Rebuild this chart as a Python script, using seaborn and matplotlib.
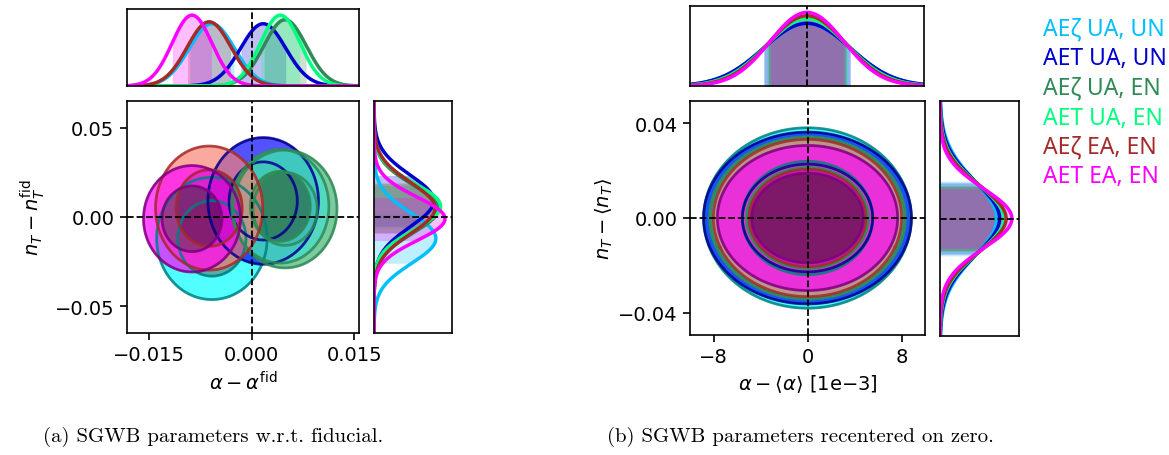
import numpy as np
import matplotlib
matplotlib.use('Agg')
import matplotlib.pyplot as plt
import seaborn as sns

# series labels and colours
labels = ['AEζ UA, UN', 'AET UA, UN', 'AEζ UA, EN', 'AET UA, EN', 'AEζ EA, EN', 'AET EA, EN']
line_colors = ['deepskyblue', 'mediumblue', 'seagreen', 'springgreen', 'brown', 'magenta']
fill_colors = ['cyan', 'blue', 'mediumseagreen', 'turquoise', 'salmon', 'magenta']
edge_colors = ['teal', 'darkblue', 'seagreen', 'seagreen', 'brown', 'purple']

# (a) w.r.t. fiducial: means and widths
alpha_mean_a = [-0.0058, 0.0017, 0.0049, 0.0042, -0.0062, -0.0087]
alpha_sig_a = [0.0033, 0.0033, 0.0031, 0.0029, 0.0032, 0.0029]
nt_mean_a = [-0.0120, 0.0090, 0.0045, 0.0060, 0.0050, -0.0010]
nt_sig_a = [0.0140, 0.0145, 0.0135, 0.0130, 0.0142, 0.0122]

# (b) recentered on zero (alpha in units of 1e-3)
alpha_mean_b = [0.0, 0.0, 0.0, 0.0, 0.0, 0.0]
alpha_sig_b = [3.70, 3.70, 3.40, 3.45, 3.30, 3.15]
nt_mean_b = [0.0, 0.0, 0.0, 0.0, 0.0, 0.0]
nt_sig_b = [0.0160, 0.0152, 0.0140, 0.0142, 0.0137, 0.0126]

xticks_a = [-0.015, 0.0, 0.015]
yticks_a = [-0.05, 0.0, 0.05]
xticks_b = [-8, 0, 8]
yticks_b = [-0.04, 0.0, 0.04]

sns.set_style('ticks')
plt.rcParams['font.family'] = ['DejaVu Sans']
plt.rcParams['axes.linewidth'] = 1.2
plt.rcParams['axes.edgecolor'] = 'black'
plt.rcParams['text.color'] = 'black'
plt.rcParams['axes.labelcolor'] = 'black'
plt.rcParams['xtick.color'] = 'black'
plt.rcParams['ytick.color'] = 'black'

W, H = 1169, 456
fig = plt.figure(figsize=(W / 100, H / 100), dpi=100)


def box(x0, y0, x1, y1):
    return fig.add_axes([x0 / W, 1 - y1 / H, (x1 - x0) / W, (y1 - y0) / H])


def gauss(x, m, s):
    return np.exp(-0.5 * ((x - m) / s) ** 2) / (s * np.sqrt(2 * np.pi))


def hpd_levels(Z, probs):
    flat = np.sort(Z.ravel())[::-1]
    cs = np.cumsum(flat)
    cs /= cs[-1]
    return [flat[np.searchsorted(cs, p)] for p in probs]


def panel(ax_top, ax_main, ax_right, xm, xs, ym, ys, xlim, ylim, xticks, yticks, xfmt, yfmt):
    xg = np.linspace(xlim[0], xlim[1], 400)
    yg = np.linspace(ylim[0], ylim[1], 400)
    X, Y = np.meshgrid(xg, yg)
    top_max, right_max = 0, 0
    for i in range(len(labels)):
        c = line_colors[i]
        # top marginal
        px = gauss(xg, xm[i], xs[i])
        sns.lineplot(x=xg, y=px, color=c, lw=2.5, ax=ax_top)
        ax_top.fill_between(xg, px, where=np.abs(xg - xm[i]) <= xs[i], color=c, alpha=0.25, lw=0)
        top_max = max(top_max, px.max())
        # right marginal
        py = gauss(yg, ym[i], ys[i])
        sns.lineplot(x=py, y=yg, color=c, lw=2.5, ax=ax_right, orient='y')
        ax_right.fill_betweenx(yg, py, where=np.abs(yg - ym[i]) <= ys[i], color=c, alpha=0.25, lw=0)
        right_max = max(right_max, py.max())
        # 2d contours
        Z = np.exp(-0.5 * (((X - xm[i]) / xs[i]) ** 2 + ((Y - ym[i]) / ys[i]) ** 2))
        l95, l68 = hpd_levels(Z, [0.95, 0.68])
        ax_main.contourf(X, Y, Z, levels=[l95, l68], colors=[fill_colors[i]], alpha=0.68)
        ax_main.contourf(X, Y, Z, levels=[l68, Z.max() * 1.01], colors=[edge_colors[i]], alpha=0.65)
        ax_main.contour(X, Y, Z, levels=[l95, l68], colors=[edge_colors[i]], linewidths=2, alpha=0.85)

    ax_top.set_xlim(xlim)
    ax_top.set_ylim(0, top_max / 0.92)
    ax_right.set_ylim(ylim)
    ax_right.set_xlim(0, right_max / 0.91)
    for a in (ax_top, ax_right):
        a.set_xticks([])
        a.set_yticks([])
        a.set_xlabel('')
        a.set_ylabel('')
        for s in a.spines.values():
            s.set_visible(True)
            s.set_linewidth(1.2)
    ax_top.axvline(0, color='k', ls='--', lw=1.3)
    ax_right.axhline(0, color='k', ls='--', lw=1.3)

    ax_main.axvline(0, color='k', ls='--', lw=1.3)
    ax_main.axhline(0, color='k', ls='--', lw=1.3)
    ax_main.set_xlim(xlim)
    ax_main.set_ylim(ylim)
    ax_main.set_xticks(xticks)
    ax_main.set_yticks(yticks)
    ax_main.set_xticklabels([xfmt(v) for v in xticks])
    ax_main.set_yticklabels([yfmt(v) for v in yticks])
    ax_main.tick_params(direction='out', length=5, width=1.2, labelsize=14, pad=4)
    for s in ax_main.spines.values():
        s.set_visible(True)


def fmt(pattern):
    return lambda v: (pattern % v).replace('-', '\u2212')


# panel (a)
ta = box(127, 10, 359, 87)
ma = box(127, 102, 359, 334)
ra = box(374, 102, 452, 334)
panel(ta, ma, ra, alpha_mean_a, alpha_sig_a, nt_mean_a, nt_sig_a,
      (-0.0182, 0.0157), (-0.065, 0.065), xticks_a, yticks_a, fmt('%.3f'), fmt('%.2f'))
ma.set_xlabel(r'$\alpha - \alpha^{\rm fid}$', fontsize=14, labelpad=4)
ma.set_ylabel(r'$n_T - n_T^{\rm fid}$', fontsize=14, labelpad=6)

# panel (b)
tb = box(690, 7, 924, 87)
mb = box(690, 102, 925, 336)
rb = box(940, 102, 1019, 337)
panel(tb, mb, rb, alpha_mean_b, alpha_sig_b, nt_mean_b, nt_sig_b,
      (-10, 10), (-0.0495, 0.0495), xticks_b, yticks_b, fmt('%d'), fmt('%.2f'))
mb.set_xlabel('$\\alpha - \\langle \\alpha \\rangle$ [1e\u22123]', fontsize=14, labelpad=4)
mb.set_ylabel(r'$n_T - \langle n_T \rangle$', fontsize=14, labelpad=2)

# legend as coloured text
for i, lab in enumerate(labels):
    fig.text(1043 / W, 1 - (30 + 29.5 * i) / H, lab, color=line_colors[i],
             fontsize=16.5, va='center', ha='left', family=['Noto Sans', 'DejaVu Sans'])

# captions
fig.text(213 / W, 1 - 437 / H, '(a) SGWB parameters w.r.t. fiducial.', ha='center', va='center',
         fontsize=15, family=['cmr10', 'DejaVu Serif'])
fig.text(800 / W, 1 - 437 / H, '(b) SGWB parameters recentered on zero.', ha='center', va='center',
         fontsize=15, family=['cmr10', 'DejaVu Serif'])

plt.savefig('out.png', dpi=100)
